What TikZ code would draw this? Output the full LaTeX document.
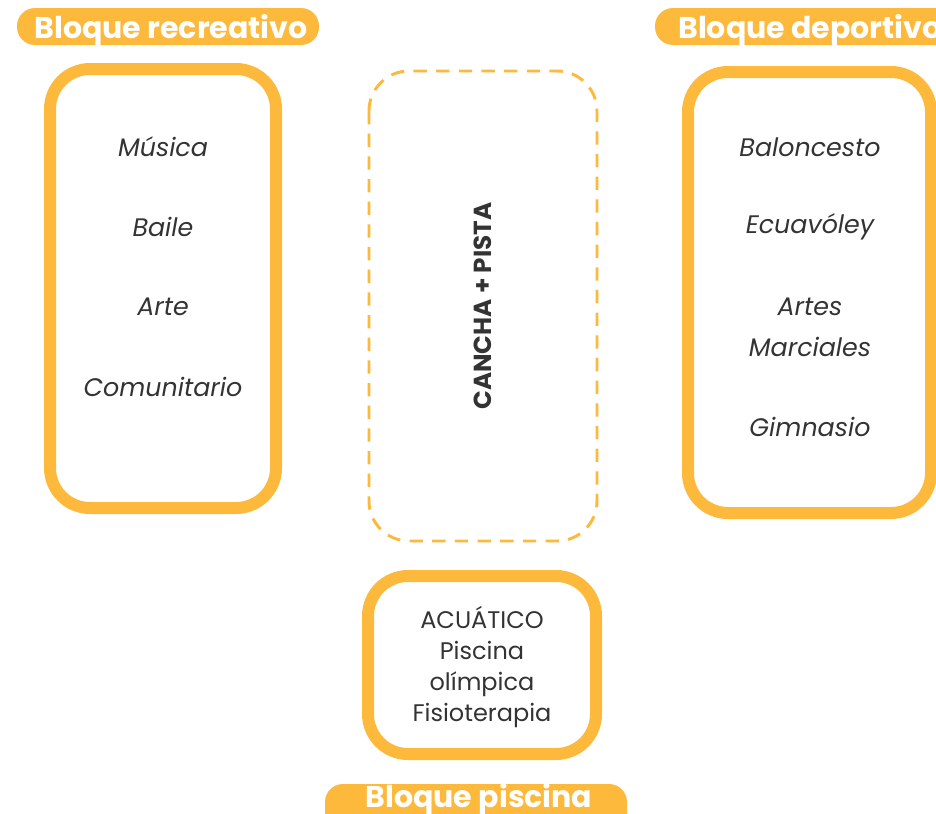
\documentclass[tikz,border=0pt]{standalone}
\usepackage{fontspec}
\setmainfont{Poppins}
\definecolor{orng}{HTML}{FDB93B}
\definecolor{txt}{HTML}{333333}
\begin{document}
\begin{tikzpicture}[x=0.75pt,y=-0.75pt,
  block/.style={draw=orng,line width=9pt,rounded corners=30pt},
  dashblock/.style={draw=orng,line width=2.2pt,rounded corners=30pt,dash pattern=on 10pt off 7pt},
  pill/.style={fill=orng,rounded corners=13.5pt},
  head/.style={text=white,font=\bfseries\fontsize{22.5}{26}\selectfont,inner sep=0pt,anchor=base},
  item/.style={text=txt,font=\itshape\fontsize{19}{23}\selectfont,inner sep=0pt},
  plain/.style={text=txt,font=\fontsize{18}{23.2}\selectfont,inner sep=0pt,align=center}]
\useasboundingbox (0,0) rectangle (936,814);
\clip (0,0) rectangle (936,814);
% headers
\path[pill] (17,8) rectangle (319,45);
\node[head] (hr) at (171,38) {Bloque recreativo};
\path[pill] (655,8) rectangle (990,45);
\node[head,anchor=base west] (hd) at (678,38) {Bloque deportivo};
\path[pill] (325,784) rectangle (627,840);
\node[head] (hp) at (479,807) {Bloque piscina};
% boxes
\draw[block] (50,69) rectangle (276,508);
\draw[dashblock] (369,71) rectangle (597,541);
\draw[block] (688,72) rectangle (931,513);
\draw[block] (368,576) rectangle (596,754);
% left items
\node[item] (m1) at (163,147) {Música};
\node[item] (m2) at (163,227) {Baile};
\node[item] (m3) at (163,307) {Arte};
\node[item] (m4) at (163,387) {Comunitario};
% right items
\node[item] (d1) at (810,147) {Baloncesto};
\node[item] (d2) at (810,227) {Ecuavóley};
\node[item] (d3) at (810,307) {Artes};
\node[item] (d4) at (810,347) {Marciales};
\node[item] (d5) at (810,427) {Gimnasio};
% middle
\node[text=txt,font=\bfseries\fontsize{18.5}{20}\selectfont,rotate=90,inner sep=0pt] (cp) at (483,306) {CANCHA + PISTA};
% bottom
\node[plain] (ac) at (482,667) {ACUÁTICO\\Piscina\\olímpica\\Fisioterapia};
\end{tikzpicture}
\end{document}
